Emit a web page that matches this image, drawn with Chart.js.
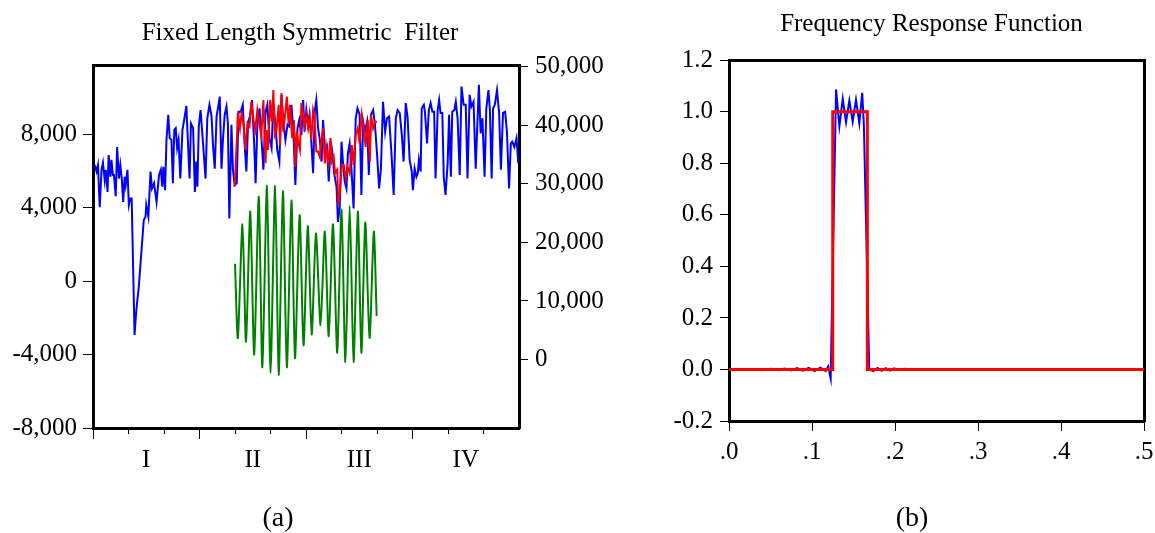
<!DOCTYPE html>
<html>
<head>
<meta charset="utf-8">
<script src="https://cdn.jsdelivr.net/npm/chart.js@4.4.1/dist/chart.umd.min.js"></script>
<style>
  html, body { margin: 0; padding: 0; background: #fff; }
  body { width: 1155px; height: 533px; position: relative; overflow: hidden; font-family: 'Liberation Serif', 'Times New Roman', serif; }
  .box { position: absolute; top: 0; height: 533px; }
  #boxA { left: -20px; width: 640px; }
  #boxB { left: 660px; width: 543px; }
  .cap { position: absolute; top: 500px; width: 80px; font-size: 28px; line-height: 34px; text-align: center; color: #000; }
</style>
</head>
<body>
<div class="box" id="boxA"><canvas id="filt"></canvas></div>
<div class="box" id="boxB"><canvas id="resp"></canvas></div>
<div class="cap" style="left:238px">(a)</div>
<div class="cap" style="left:872px">(b)</div>
<script>
/* (a) serie originale, serie filtrata e ciclo — asse x in mesi (0..12) */
const blueT = [0.05,0.10,0.14,0.19,0.24,0.28,0.33,0.36,0.41,0.44,0.49,0.52,0.56,0.59,0.64,0.68,0.73,0.77,0.81,0.85,
  0.89,0.92,0.97,1.01,1.05,1.09,1.17,1.22,1.29,1.36,1.43,1.48,1.50,1.56,1.62,1.66,1.72,1.79,1.86,1.91,
  1.95,1.98,2.03,2.07,2.12,2.16,2.21,2.25,2.29,2.33,2.37,2.41,2.46,2.52,2.56,2.63,2.69,2.72,2.76,2.82,
  2.87,2.91,2.94,2.98,3.03,3.10,3.17,3.22,3.28,3.34,3.38,3.43,3.48,3.52,3.57,3.62,3.66,3.71,3.76,3.80,
  3.84,3.90,3.94,3.99,4.05,4.10,4.16,4.22,4.27,4.32,4.37,4.42,4.48,4.54,4.58,4.63,4.69,4.74,4.80,4.86,
  4.91,4.97,5.03,5.08,5.14,5.19,5.25,5.31,5.36,5.42,5.48,5.53,5.59,5.65,5.70,5.76,5.81,5.87,5.92,5.96,
  6.01,6.06,6.10,6.14,6.20,6.25,6.29,6.34,6.39,6.44,6.48,6.54,6.59,6.64,6.70,6.74,6.80,6.86,6.90,6.95,
  7.00,7.04,7.09,7.14,7.18,7.23,7.28,7.34,7.40,7.45,7.51,7.56,7.61,7.66,7.72,7.77,7.83,7.89,7.94,8.00,
  8.06,8.11,8.17,8.23,8.28,8.34,8.41,8.47,8.53,8.58,8.64,8.70,8.75,8.81,8.86,8.92,8.98,9.01,9.06,9.11,
  9.15,9.18,9.23,9.26,9.32,9.35,9.41,9.46,9.51,9.56,9.61,9.65,9.71,9.75,9.79,9.84,9.88,9.93,9.99,10.03,
  10.08,10.12,10.18,10.22,10.27,10.33,10.38,10.44,10.50,10.55,10.61,10.66,10.72,10.78,10.83,10.87,10.92,10.97,11.03,11.08,
  11.14,11.18,11.23,11.27,11.32,11.38,11.44,11.49,11.55,11.61,11.66,11.72,11.77,11.81,11.87,11.93,11.98];
const blueV = [33200,32100,33200,26000,32400,33600,30600,32400,28600,34900,31200,34100,31500,31500,27900,36300,30900,33200,30900,26900,
  31200,29800,32400,26400,27500,27500,4200,8400,12400,18100,23800,24400,26400,24400,32100,29200,30100,26900,31500,32400,
  29500,32900,28900,37500,41800,37800,37500,30100,39200,39500,36100,37500,30900,39200,40600,43300,34900,30900,40300,39500,
  28600,33800,29500,39800,42600,36900,30900,41200,43500,41500,36600,32600,41500,42900,44900,32600,37500,41800,43200,40300,
  24100,40100,32600,29800,30100,42300,42300,43500,36900,32100,40600,41500,44300,36900,30100,40100,42900,38300,32400,42300,
  43500,37800,36100,43800,40100,35800,33800,45200,40900,37500,40100,39800,43500,38100,29800,39500,40900,38300,44300,38900,
  42600,40100,41800,38300,31800,42600,44300,39500,37500,33800,40900,35500,36300,30400,37200,35500,31500,29500,23500,26100,
  37200,33800,30400,29200,35200,36900,32600,25800,41200,42900,41800,28100,40600,38900,40600,31500,41800,42600,40300,35200,
  29200,32600,44000,38900,41200,41500,34900,28100,41200,42600,42100,38300,33800,43800,41500,34100,32100,28900,32600,31200,
  31800,34100,32100,42900,43500,42300,36900,42600,43800,42300,42300,30900,42600,44300,42100,42100,31200,28100,33500,41800,
  31200,42300,42600,44000,41200,31500,46600,43500,43500,30900,45200,43200,44000,32600,40600,46900,38600,41200,31200,42900,
  46000,42600,30900,42900,43500,46000,42100,32400,42100,42300,38900,29200,36900,37200,36300,37800,33500];

const redT = [3.99,4.05,4.08,4.14,4.18,4.24,4.29,4.35,4.41,4.46,4.52,4.57,4.63,4.69,4.74,4.80,4.86,4.89,4.93,4.99,
  5.04,5.08,5.12,5.17,5.23,5.27,5.31,5.36,5.42,5.46,5.51,5.55,5.61,5.66,5.70,5.74,5.79,5.83,5.87,5.92,
  5.96,6.01,6.06,6.10,6.15,6.20,6.24,6.29,6.34,6.39,6.44,6.48,6.53,6.57,6.63,6.69,6.73,6.78,6.82,6.88,
  6.91,6.95,7.01,7.06,7.12,7.17,7.23,7.29,7.34,7.40,7.46,7.51,7.57,7.63,7.68,7.74,7.80,7.83,7.89,7.94,8.00];
const redV = [29500,37200,42100,39500,41800,40100,35800,40300,39800,44000,40900,39200,42600,40100,38300,44300,33500,39200,35800,44300,
  40600,46000,38300,39200,43500,36600,45500,38900,42300,44900,40300,43500,37800,40900,32900,38900,36900,35800,43800,41800,
  39800,41800,39500,41200,37500,42600,41500,35500,35500,34600,37800,39500,33500,36300,33500,37800,33800,34600,31800,32400,
  26400,28100,33200,33200,30900,32900,31800,36600,33200,38300,39500,36900,41800,39200,36300,40900,33800,41800,39500,40600,40600];

const greenT = [4.00,4.08,4.21,4.31,4.43,4.54,4.67,4.77,4.90,5.00,5.13,5.23,5.35,5.46,5.59,5.69,5.82,5.93,
  6.05,6.16,6.28,6.41,6.53,6.64,6.76,6.88,7.00,7.11,7.23,7.34,7.46,7.56,7.67,7.79,7.91,7.99];
const greenV = [950,-3100,3100,-3300,3800,-4000,4600,-4700,5200,-5000,5200,-5100,4900,-4700,4400,-4200,3600,-3500,
  3000,-2900,2600,-2400,2700,-3000,3100,-3900,3900,-4400,4100,-4400,3800,-3900,3200,-3100,2700,-1900];

const monthTicks = [0,1,2,3,4,5,6,7,8,9,10,11];
const quarterTicks = [0,3,6,9];
const periodTicks = [1.5,4.5,7.5,10.5];
const periodLabels = ['I','II','III','IV'];
const leftTicks = [-8000,-4000,0,4000,8000];
const rightTicks = [0,10000,20000,30000,40000,50000];

/* (b) funzione di risposta in frequenza */
const freq = [0,0.010,0.020,0.030,0.040,0.050,0.060,0.067,0.075,0.082,0.089,0.096,0.103,0.110,0.1165,0.1195,0.1225,
  0.129,0.133,0.137,0.141,0.145,0.149,0.153,0.157,0.1605,0.1625,0.169,
  0.174,0.179,0.184,0.189,0.194,0.199,0.205,0.212,0.220,0.230,0.240,0.260,0.300,0.350,0.400,0.450,0.500];
const gainFilter = [0,0.002,-0.002,0.002,-0.003,0.003,-0.003,0.004,-0.004,0.005,-0.005,0.006,-0.006,0.007,-0.006,0.012,-0.035,
  1.087,0.944,1.050,0.960,1.044,0.962,1.047,0.955,1.074,0.950,0,
  -0.006,0.006,-0.005,0.005,-0.004,0.004,-0.003,0.003,-0.002,0.002,-0.002,0.001,-0.001,0.001,-0.001,0.001,0];
const idealFreq = [0,0.125,0.125,0.1667,0.1667,0.5];
const idealGain = [0,0,1,1,0,0];
const freqTicks = [0,0.1,0.2,0.3,0.4,0.5];
const gainTicks = [-0.2,0,0.2,0.4,0.6,0.8,1.0,1.2];

Chart.defaults.font.family = "'Liberation Serif', 'Times New Roman', serif";
Chart.defaults.font.size = 25;
Chart.defaults.color = '#000';

const BLUE = '#0000ff', RED = '#ff0000', GREEN = '#008000';
const frame = { display: true, color: '#000', width: 3 };
const pts = (xs, ys) => xs.map((x, i) => ({ x, y: ys[i] }));
const setTicks = (vals) => (axis) => { axis.ticks = vals.map((v) => ({ value: v })); };
const fixW = (w) => (s) => { s.width = w; };
const fixH = (h) => (s) => { s.height = h; };
const line = (data, color, axis, extra = {}) => ({
  data, borderColor: color, backgroundColor: color, borderWidth: 2, pointRadius: 0,
  yAxisID: axis, tension: 0, fill: false, ...extra,
});
const edge = (pos, size) => ({
  type: 'linear', position: pos, display: true, border: frame,
  grid: { drawOnChartArea: false, drawTicks: false }, ticks: { display: false },
  afterFit: pos === 'top' ? fixH(size) : fixW(size),
});
const common = {
  responsive: true, maintainAspectRatio: false, animation: false,
  layout: { padding: 0, autoPadding: false },
  events: [],
};
const titleOpts = (text, top, bottom) => ({
  display: true, text, color: '#000', font: { size: 25, weight: 'normal' }, padding: { top, bottom },
});

/* ── (a) Fixed Length Symmetric Filter ─────────────────────────────── */
const isLabel = (v) => periodTicks.includes(v);
new Chart(document.getElementById('filt'), {
  type: 'line',
  data: { datasets: [
    line(pts(blueT, blueV), BLUE, 'yR', { order: 3 }),
    line(pts(greenT, greenV), GREEN, 'yL', { order: 2, tension: 0.25 }),
    line(pts(redT, redV), RED, 'yR', { order: 1 }),
  ] },
  options: {
    ...common,
    plugins: {
      legend: { display: false }, tooltip: { enabled: false },
      title: titleOpts('Fixed Length Symmetric  Filter', 18, 17.7),
    },
    scales: {
      x: {
        type: 'linear', position: 'bottom', min: 0, max: 12, border: frame,
        afterBuildTicks: setTicks(monthTicks.concat(periodTicks).sort((a, b) => a - b)),
        afterFit: fixH(105),
        grid: {
          drawOnChartArea: false, tickLength: 11, tickWidth: 1,
          tickColor: (c) => (c.tick && isLabel(c.tick.value) ? 'rgba(0,0,0,0)' : '#000'),
          tickBorderDash: (c) => (c.tick && quarterTicks.includes(c.tick.value) ? [] : [4, 30]),
        },
        ticks: { autoSkip: false, maxRotation: 0, padding: 6, callback: (v) => (isLabel(v) ? periodLabels[periodTicks.indexOf(v)] : '') },
      },
      xTop: { ...edge('top', 0), min: 0, max: 12 },
      yL: {
        position: 'left', min: -8000, max: 11741, border: frame,
        afterBuildTicks: setTicks(leftTicks), afterFit: fixW(113),
        grid: { drawOnChartArea: false, tickLength: 10, tickColor: '#000' },
        ticks: { padding: 6, callback: (v) => v.toLocaleString('en-US') },
      },
      yR: {
        position: 'right', min: -11690, max: 50170, border: frame,
        afterBuildTicks: setTicks(rightTicks), afterFit: fixW(101),
        grid: { drawOnChartArea: false, tickLength: 9, tickColor: '#000' },
        ticks: { padding: 7, callback: (v) => v.toLocaleString('en-US') },
      },
    },
  },
});

/* ── (b) Frequency Response Function ───────────────────────────────── */
new Chart(document.getElementById('resp'), {
  type: 'line',
  data: { datasets: [
    line(pts(freq, gainFilter), BLUE, 'y', { order: 2 }),
    line(pts(idealFreq, idealGain), RED, 'y', { order: 1, borderWidth: 3 }),
  ] },
  options: {
    ...common,
    plugins: {
      legend: { display: false }, tooltip: { enabled: false },
      title: titleOpts('Frequency Response Function', 9, 21.3),
    },
    scales: {
      x: {
        type: 'linear', position: 'bottom', min: 0, max: 0.5, border: frame,
        afterBuildTicks: setTicks(freqTicks), afterFit: fixH(112),
        grid: { drawOnChartArea: false, tickLength: 10, tickColor: '#000' },
        ticks: { autoSkip: false, maxRotation: 0, padding: 6, callback: (v) => v.toFixed(1).replace(/^0/, '') },
      },
      xTop: { ...edge('top', 0), min: 0, max: 0.5 },
      y: {
        position: 'left', min: -0.2, max: 1.2, border: frame,
        afterBuildTicks: setTicks(gainTicks), afterFit: fixW(69),
        grid: { drawOnChartArea: false, tickLength: 9, tickColor: '#000' },
        ticks: { padding: 7, callback: (v) => v.toFixed(1) },
      },
      yEdge: edge('right', 59),
    },
  },
});
</script>
</body>
</html>
